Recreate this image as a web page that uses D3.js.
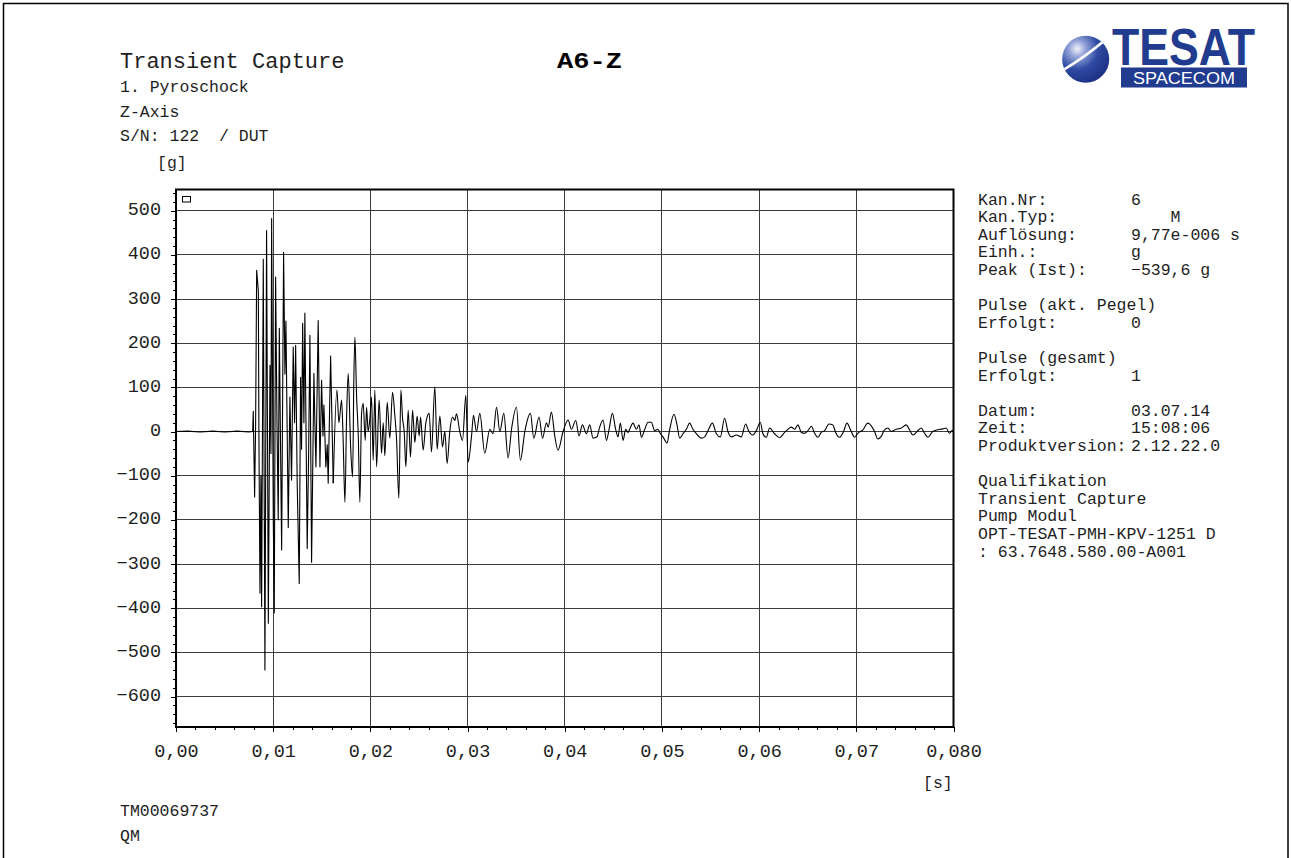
<!DOCTYPE html>
<html>
    <head>
        <title>A6-Z Transient Capture</title>
        <style>
            html, body { margin: 0; padding: 0; background: #fff; }
            svg text { font-family: "Liberation Mono", "DejaVu Sans Mono", monospace; fill: #1e1e1e; }
        </style>
        <script src="https://d3js.org/d3.v7.min.js"></script>
        <script type="text/javascript">
            // time [ms], acceleration [g] - extrema
            var trace = [
                [0, 0], [1.2, 1], [2.5, -1], [3.8, 1], [5, -1], [6.3, 1], [7.5, -1], [7.89, 0],
                [7.95, 46], [8.09, -148], [8.19, 10], [8.30, 365], [8.47, 320], [8.53, 0], [8.64, -366],
                [8.74, -100], [8.81, -397], [8.98, 390], [9.15, -540], [9.32, 455], [9.50, -434],
                [9.67, 150], [9.77, -50], [9.84, 482], [10.01, -200], [10.11, -411], [10.25, 350],
                [10.39, 20], [10.52, -200], [10.63, 234], [10.87, -268], [11.07, 406], [11.21, 130],
                [11.31, 250], [11.45, -20], [11.55, -217], [11.72, 78], [11.89, -110], [12.06, 191],
                [12.20, 20], [12.31, 195], [12.47, -117], [12.68, -344], [12.82, 123], [12.92, -40],
                [13.03, 245], [13.16, 20], [13.26, 268], [13.50, -265], [13.64, -60], [13.78, 218],
                [13.95, -296], [14.19, 132], [14.29, 20], [14.40, -80], [14.63, 251], [14.81, -80],
                [14.98, 116], [15.12, -10], [15.22, 60], [15.42, -80], [15.56, -30], [15.66, -117],
                [15.91, 171], [16.18, -117], [16.56, 94], [16.76, 20], [17.04, 71], [17.20, -20],
                [17.38, -160], [17.55, 30], [17.72, 132], [17.96, -30], [18.17, -103], [18.30, 120],
                [18.41, 214], [18.58, 80], [18.75, -5], [18.92, -160], [19.09, 40], [19.26, 64],
                [19.47, -20], [19.61, 55], [19.77, 0], [19.95, 30], [20.12, 78], [20.29, -65],
                [20.46, 94], [20.64, -80], [20.90, 71], [21.15, -49], [21.32, 20], [21.49, -55],
                [21.73, 66], [22.00, -15], [22.28, 89], [22.52, 35], [22.69, -15], [22.93, -151],
                [23.14, 94], [23.31, 30], [23.48, 0], [23.65, -80], [23.89, 48], [24.13, -58],
                [24.34, 48], [24.58, -25], [24.81, 35], [25.02, -10], [25.16, 33], [25.43, -42],
                [25.71, 20], [26.05, 41], [26.29, -46], [26.63, 101], [26.87, -40], [27.15, 35],
                [27.42, -35], [27.66, 0], [27.90, -72], [28.17, 0], [28.45, 33], [28.69, 25],
                [28.86, 40], [29.20, 0], [29.48, -20], [29.82, 82], [30.06, -69], [30.41, -10],
                [30.61, 37], [30.92, 0], [31.26, 41], [31.77, -49], [32.29, 5], [32.63, -5],
                [32.98, 55], [33.32, 0], [33.73, 41], [34.17, -60], [34.52, 5], [35.03, 55],
                [35.44, -65], [35.89, 0], [36.47, 41], [36.81, -15], [37.36, 33], [37.71, -15],
                [38.12, 20], [38.29, 10], [38.63, 44], [38.97, -10], [39.31, -42], [39.83, 0],
                [40.34, 26], [40.69, 5], [41.13, 25], [41.47, -10], [41.82, 15], [42.23, -5],
                [42.57, 15], [42.91, -15], [43.32, -12], [43.53, 5], [43.94, 26], [44.29, -20],
                [44.56, 5], [44.90, 41], [45.24, 5], [45.48, -12], [45.72, 19], [46.00, -20],
                [46.27, 5], [46.51, -2], [46.68, 5], [47.02, 19], [47.37, 5], [47.64, 15],
                [47.89, -13], [48.23, 5], [48.57, 21], [48.91, 21], [49.25, 2], [49.59, 5],
                [49.84, -5], [50.11, -12], [50.52, -26], [50.80, 5], [51.24, 39], [51.55, 15],
                [51.83, -15], [52.17, -5], [52.51, 5], [52.85, 19], [53.19, 5], [53.54, -5],
                [54.05, -15], [54.40, -12], [54.74, 2], [55.19, 19], [55.60, -5], [56.01, -12],
                [56.45, 30], [56.79, 0], [57.14, -12], [57.66, -8], [58.17, -12], [58.61, 17],
                [58.95, 0], [59.36, -8], [59.71, 2], [60.12, 21], [60.39, -5], [60.74, -13],
                [61.08, 8], [61.59, -5], [62.11, -14], [62.62, -2], [62.96, 5], [63.31, 10],
                [63.65, 5], [63.99, 15], [64.34, -2], [64.68, -4], [65.02, 2], [65.37, 12],
                [65.71, -4], [66.05, -13], [66.39, -2], [66.74, 2], [67.18, 17], [67.59, 15],
                [67.87, -2], [68.28, -13], [68.69, 0], [69.03, 19], [69.48, 0], [69.82, -13],
                [70.16, -4], [70.68, 4], [71.19, 19], [71.54, 13], [71.88, 0], [72.22, -17],
                [72.56, -11], [72.90, 4], [73.25, 8], [73.59, 0], [74.10, 5], [74.62, 8],
                [75.13, 15], [75.48, 4], [75.82, -8], [76.33, 2], [76.68, 8], [77.02, -4],
                [77.36, -13], [77.87, 0], [78.38, 4], [78.90, 6], [79.24, 8], [79.58, -4],
                [79.86, 2], [80, 0]
            ];

            var xTicks = [0, 0.01, 0.02, 0.03, 0.04, 0.05, 0.06, 0.07, 0.08];
            var xTickLabels = ["0,00", "0,01", "0,02", "0,03", "0,04", "0,05", "0,06", "0,07", "0,080"];
            var yTicks = [-600, -500, -400, -300, -200, -100, 0, 100, 200, 300, 400, 500];

            var headerLines = ["1. Pyroschock", "Z-Axis", "S/N: 122  / DUT"];
            var infoLabels = ["Kan.Nr:", "Kan.Typ:", "Auflösung:", "Einh.:", "Peak (Ist):", "",
                "Pulse (akt. Pegel)", "Erfolgt:", "", "Pulse (gesamt)", "Erfolgt:", "",
                "Datum:", "Zeit:", "Produktversion:", "", "Qualifikation", "Transient Capture",
                "Pump Modul", "OPT-TESAT-PMH-KPV-1251 D", ": 63.7648.580.00-A001"];
            var infoValues = ["6", "    M", "9,77e-006 s", "g", "\u2212539,6 g", "",
                "", "0", "", "", "1", "",
                "03.07.14", "15:08:06", "2.12.22.0", "", "", "",
                "", "", ""];
            var footerLines = ["TM00069737", "QM"];
        </script>
    </head>
    <body>
        <div id="chart"></div>
        <script type="text/javascript">
            var w = 1291, h = 858;
            var svg = d3.select("#chart").append("svg")
                .attr("width", w)
                .attr("height", h);

            // page border
            svg.append("rect")
                .attr("x", 3.5).attr("y", 3.5)
                .attr("width", 1284.5).attr("height", 900)
                .attr("fill", "none")
                .attr("stroke", "#000")
                .attr("stroke-width", 1.5);

            var plot = { left: 176, right: 953.5, top: 189.5, bottom: 727 };
            var x = d3.scaleLinear().domain([0, 0.08]).range([plot.left, plot.right]);
            var y = d3.scaleLinear().domain([-669, 548]).range([plot.bottom, plot.top]);

            // header
            svg.append("text")
                .attr("x", 120).attr("y", 67.5)
                .style("font-size", "22px")
                .text("Transient Capture");
            svg.append("text")
                .attr("x", 557).attr("y", 67.5)
                .attr("textLength", 65)
                .attr("lengthAdjust", "spacingAndGlyphs")
                .style("font-size", "22px")
                .style("font-weight", "bold")
                .style("fill", "#000")
                .text("A6-Z");
            svg.selectAll(".header")
                .data(headerLines)
                .enter()
                .append("text")
                .attr("class", "header")
                .attr("x", 120)
                .attr("y", (d, i) => 92.3 + i * 24.2)
                .style("font-size", "16.5px")
                .style("white-space", "pre")
                .text(d => d);

            // logo
            var defs = svg.append("defs");
            var grad = defs.append("radialGradient")
                .attr("id", "sphere")
                .attr("cx", 0.32).attr("cy", 0.28).attr("r", 0.8);
            grad.append("stop").attr("offset", 0).attr("stop-color", "#f2f4fb");
            grad.append("stop").attr("offset", 0.22).attr("stop-color", "#93a3d8");
            grad.append("stop").attr("offset", 0.55).attr("stop-color", "#2f4aa3");
            grad.append("stop").attr("offset", 1).attr("stop-color", "#1a2e80");
            defs.append("clipPath").attr("id", "sphereClip")
                .append("circle").attr("cx", 1085.7).attr("cy", 59.2).attr("r", 23.5);
            var logo = svg.append("g");
            logo.append("circle")
                .attr("cx", 1085.7).attr("cy", 59.2).attr("r", 23.5)
                .attr("fill", "url(#sphere)");
            logo.append("path")
                .attr("d", "M1060,72 Q1084,58 1110,36")
                .attr("clip-path", "url(#sphereClip)")
                .attr("fill", "none")
                .attr("stroke", "#fff")
                .attr("stroke-width", 2.6);
            logo.append("text")
                .attr("x", 1112).attr("y", 65)
                .attr("textLength", 143)
                .attr("lengthAdjust", "spacingAndGlyphs")
                .style("font-family", "'Liberation Sans', Arial, sans-serif")
                .style("font-weight", "bold")
                .style("font-size", "51px")
                .style("fill", "#213b8f")
                .text("TESAT");
            logo.append("rect")
                .attr("x", 1121).attr("y", 67.5)
                .attr("width", 126).attr("height", 20)
                .attr("fill", "#213b8f");
            logo.append("text")
                .attr("x", 1133).attr("y", 84)
                .attr("textLength", 102)
                .attr("lengthAdjust", "spacingAndGlyphs")
                .style("font-family", "'Liberation Sans', Arial, sans-serif")
                .style("font-size", "17px")
                .style("fill", "#fff")
                .text("SPACECOM");

            // grid
            var grid = svg.append("g")
                .attr("stroke", "#3c3c3c")
                .attr("stroke-width", 1)
                .attr("shape-rendering", "crispEdges");
            grid.selectAll(".vgrid")
                .data(xTicks.slice(1, -1))
                .enter()
                .append("line")
                .attr("x1", d => x(d)).attr("x2", d => x(d))
                .attr("y1", plot.top).attr("y2", plot.bottom);
            grid.selectAll(".hgrid")
                .data(yTicks)
                .enter()
                .append("line")
                .attr("x1", plot.left).attr("x2", plot.right)
                .attr("y1", d => y(d)).attr("y2", d => y(d));

            // axes
            var monoAxis = function(g) {
                g.select(".domain").remove();
                g.attr("font-family", null).attr("font-size", null);
                g.selectAll("line").attr("stroke", "#000").attr("shape-rendering", "crispEdges");
            };
            svg.append("g")
                .attr("transform", "translate(0," + plot.bottom + ")")
                .call(d3.axisBottom(x).tickValues(d3.range(0, 41).map(i => i * 0.002)).tickSize(3).tickFormat(""))
                .call(monoAxis);
            svg.append("g")
                .attr("transform", "translate(0," + plot.bottom + ")")
                .call(d3.axisBottom(x).tickValues(xTicks).tickSize(5).tickPadding(12)
                    .tickFormat((d, i) => xTickLabels[i]))
                .call(monoAxis)
                .selectAll("text")
                .style("font-size", "18.5px");
            svg.append("g")
                .attr("transform", "translate(" + plot.left + ",0)")
                .call(d3.axisLeft(y).tickValues(d3.range(-33, 28).map(i => i * 20)).tickSize(3).tickFormat(""))
                .call(monoAxis);
            svg.append("g")
                .attr("transform", "translate(" + plot.left + ",0)")
                .call(d3.axisLeft(y).tickValues(yTicks).tickSize(5).tickPadding(10)
                    .tickFormat(d => String(d).replace("-", "\u2212")))
                .call(monoAxis)
                .selectAll("text")
                .attr("dy", "0.22em")
                .style("font-size", "18.5px");

            svg.append("text")
                .attr("x", 157).attr("y", 168)
                .style("font-size", "16.5px")
                .text("[g]");
            svg.append("text")
                .attr("x", 923).attr("y", 788)
                .style("font-size", "16.5px")
                .text("[s]");

            // trace: sharp spikes in the burst, rounded ringing afterwards
            var burst = trace.filter(d => d[0] <= 16.18);
            var ringing = trace.filter(d => d[0] >= 16.18);
            var sharp = d3.line()
                .x(d => x(d[0] / 1000))
                .y(d => y(d[1]));
            var smooth = d3.line()
                .curve(d3.curveMonotoneX)
                .x(d => x(d[0] / 1000))
                .y(d => y(d[1]));
            svg.append("path")
                .datum(burst)
                .attr("d", sharp)
                .attr("fill", "none")
                .attr("stroke", "#000")
                .attr("stroke-width", 1.1)
                .attr("stroke-linejoin", "round");
            svg.append("path")
                .datum(ringing)
                .attr("d", smooth)
                .attr("fill", "none")
                .attr("stroke", "#000")
                .attr("stroke-width", 1.1)
                .attr("stroke-linejoin", "round");

            // frame + marker box
            svg.append("rect")
                .attr("x", plot.left).attr("y", plot.top)
                .attr("width", plot.right - plot.left)
                .attr("height", plot.bottom - plot.top)
                .attr("fill", "none")
                .attr("stroke", "#000")
                .attr("stroke-width", 2);
            svg.append("rect")
                .attr("x", 182.5).attr("y", 196.5)
                .attr("width", 8).attr("height", 5.5)
                .attr("fill", "#fff")
                .attr("stroke", "#000")
                .attr("stroke-width", 1);

            // channel info
            svg.selectAll(".info-label")
                .data(infoLabels)
                .enter()
                .append("text")
                .attr("class", "info-label")
                .attr("x", 978)
                .attr("y", (d, i) => 204.5 + i * 17.6)
                .style("font-size", "16.5px")
                .text(d => d);
            svg.selectAll(".info-value")
                .data(infoValues)
                .enter()
                .append("text")
                .attr("class", "info-value")
                .attr("x", 1131)
                .attr("y", (d, i) => 204.5 + i * 17.6)
                .style("font-size", "16.5px")
                .style("white-space", "pre")
                .text(d => d);

            // footer
            svg.selectAll(".footer")
                .data(footerLines)
                .enter()
                .append("text")
                .attr("class", "footer")
                .attr("x", 120)
                .attr("y", (d, i) => 816 + i * 25)
                .style("font-size", "16.5px")
                .text(d => d);
        </script>
    </body>
</html>
